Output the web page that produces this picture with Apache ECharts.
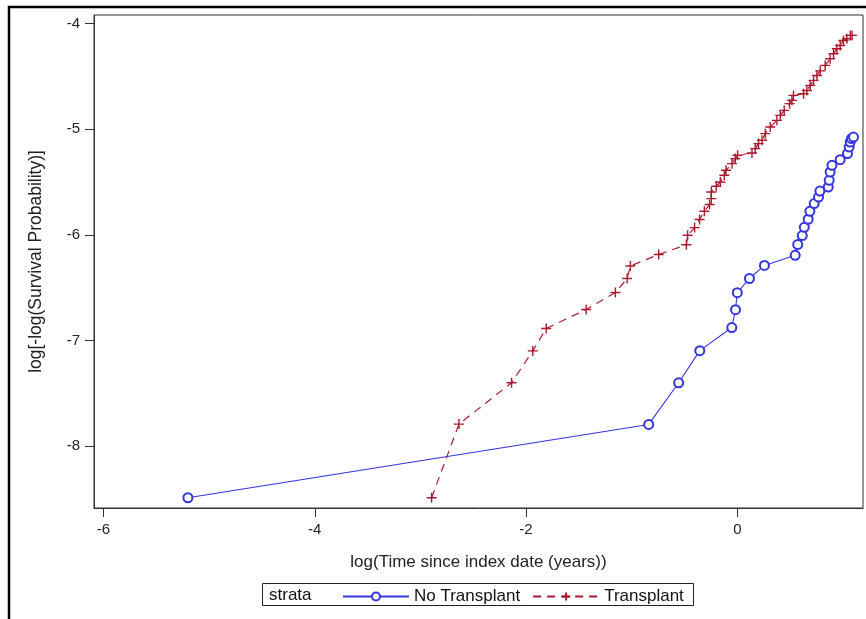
<!DOCTYPE html>
<html>
<head>
<meta charset="utf-8">
<script src="https://cdn.jsdelivr.net/npm/echarts@6/dist/echarts.min.js"></script>
<style>html,body{margin:0;padding:0;background:#fff}#c{width:866px;height:619px}</style>
</head>
<body>
<div id="c"></div>
<script>
var xTicks = [-6, -4, -2, 0];
var yTicks = [-8, -7, -6, -5, -4];

var noTransplantX = [-5.201,-0.839,-0.555,-0.355,-0.052,-0.017,0.000,0.115,0.257,0.548,0.572,0.615,0.634,0.671,0.687,0.728,0.769,0.782,0.861,0.870,0.879,0.896,0.974,1.043,1.059,1.069,1.081,1.100];
var noTransplantY = [-8.489,-7.795,-7.401,-7.097,-6.878,-6.709,-6.548,-6.414,-6.290,-6.194,-6.093,-6.008,-5.929,-5.853,-5.778,-5.705,-5.643,-5.586,-5.548,-5.485,-5.406,-5.343,-5.289,-5.232,-5.170,-5.122,-5.090,-5.075];

var transplantX = [-2.894,-2.635,-2.137,-1.936,-1.809,-1.431,-1.154,-1.043,-1.012,-0.744,-0.482,-0.470,-0.404,-0.357,-0.312,-0.262,-0.246,-0.246,-0.199,-0.161,-0.123,-0.107,-0.050,-0.019,0.003,0.139,0.170,0.201,0.234,0.265,0.312,0.375,0.407,0.444,0.495,0.517,0.532,0.627,0.659,0.690,0.722,0.754,0.785,0.832,0.879,0.911,0.943,0.974,1.005,1.037,1.069,1.087];
var transplantY = [-8.489,-7.792,-7.401,-7.099,-6.887,-6.707,-6.547,-6.414,-6.295,-6.187,-6.095,-6.005,-5.932,-5.856,-5.778,-5.714,-5.658,-5.595,-5.541,-5.501,-5.437,-5.390,-5.327,-5.279,-5.248,-5.226,-5.185,-5.137,-5.106,-5.043,-4.980,-4.917,-4.870,-4.823,-4.759,-4.728,-4.681,-4.665,-4.634,-4.586,-4.539,-4.492,-4.449,-4.397,-4.334,-4.287,-4.239,-4.208,-4.161,-4.145,-4.113,-4.113];

function zip(a, b) { return a.map(function (v, i) { return [v, b[i]]; }); }

var BLUE = '#3535e0';
var RED = '#aa1a2e';
var FONT = 'Liberation Sans, Arial, sans-serif';
var plus = 'path://M5,0L5,10M0,5L10,5';

var chart = echarts.init(document.getElementById('c'), null, {renderer: 'canvas'});
chart.setOption({
  animation: false,
  backgroundColor: '#fff',
  grid: {left: 94, top: 15, right: 3, bottom: 111, show: true, borderColor: '#333', borderWidth: 1, backgroundColor: '#fff'},
  xAxis: {
    type: 'value', min: -6.09, max: 1.19,
    name: 'log(Time since index date (years))', nameLocation: 'middle', nameGap: 46,
    nameTextStyle: {fontFamily: FONT, fontSize: 17, color: '#222'},
    axisLine: {show: true, onZero: false, lineStyle: {color: '#333'}},
    axisTick: {show: true, length: 9, customValues: xTicks, lineStyle: {color: '#333'}},
    axisLabel: {customValues: xTicks, margin: 14, fontFamily: FONT, fontSize: 15, color: '#222'},
    splitLine: {show: false}
  },
  yAxis: {
    type: 'value', min: -8.586, max: -3.92,
    name: 'log[-log(Survival Probability)]', nameLocation: 'middle', nameGap: 49,
    nameTextStyle: {fontFamily: FONT, fontSize: 17.5, color: '#222'},
    axisLine: {show: true, onZero: false, lineStyle: {color: '#333'}},
    axisTick: {show: true, length: 9, customValues: yTicks, lineStyle: {color: '#333'}},
    axisLabel: {customValues: yTicks, margin: 14, fontFamily: FONT, fontSize: 15, color: '#222'},
    splitLine: {show: false}
  },
  legend: {
    left: 337, top: 583, itemWidth: 66, itemHeight: 10, itemGap: 12,
    textStyle: {fontFamily: FONT, fontSize: 17, color: '#111'},
    data: ['No Transplant', 'Transplant']
  },
  graphic: [
    {type: 'polyline', shape: {points: [[9, 619], [9, 7], [866, 7]]}, style: {stroke: '#000', lineWidth: 2.5, fill: null}},
    {type: 'rect', shape: {x: 262.5, y: 583.5, width: 431, height: 22}, style: {stroke: '#222', lineWidth: 1, fill: null}, z: 0},
    {type: 'text', left: 269, top: 587, style: {text: 'strata', font: '17px ' + FONT, fill: '#111'}}
  ],
  series: [
    {
      name: 'No Transplant', type: 'line', data: zip(noTransplantX, noTransplantY),
      symbol: 'emptyCircle', symbolSize: 9, showAllSymbol: true,
      lineStyle: {color: BLUE, width: 1.1},
      itemStyle: {color: BLUE, borderColor: BLUE, borderWidth: 1}
    },
    {
      name: 'Transplant', type: 'line', data: zip(transplantX, transplantY),
      symbol: plus, symbolSize: 10, showAllSymbol: true,
      lineStyle: {color: RED, width: 1.2, type: [8, 6]},
      itemStyle: {color: 'rgba(0,0,0,0)', borderColor: RED, borderWidth: 1.4}
    }
  ]
});
</script>
</body>
</html>
